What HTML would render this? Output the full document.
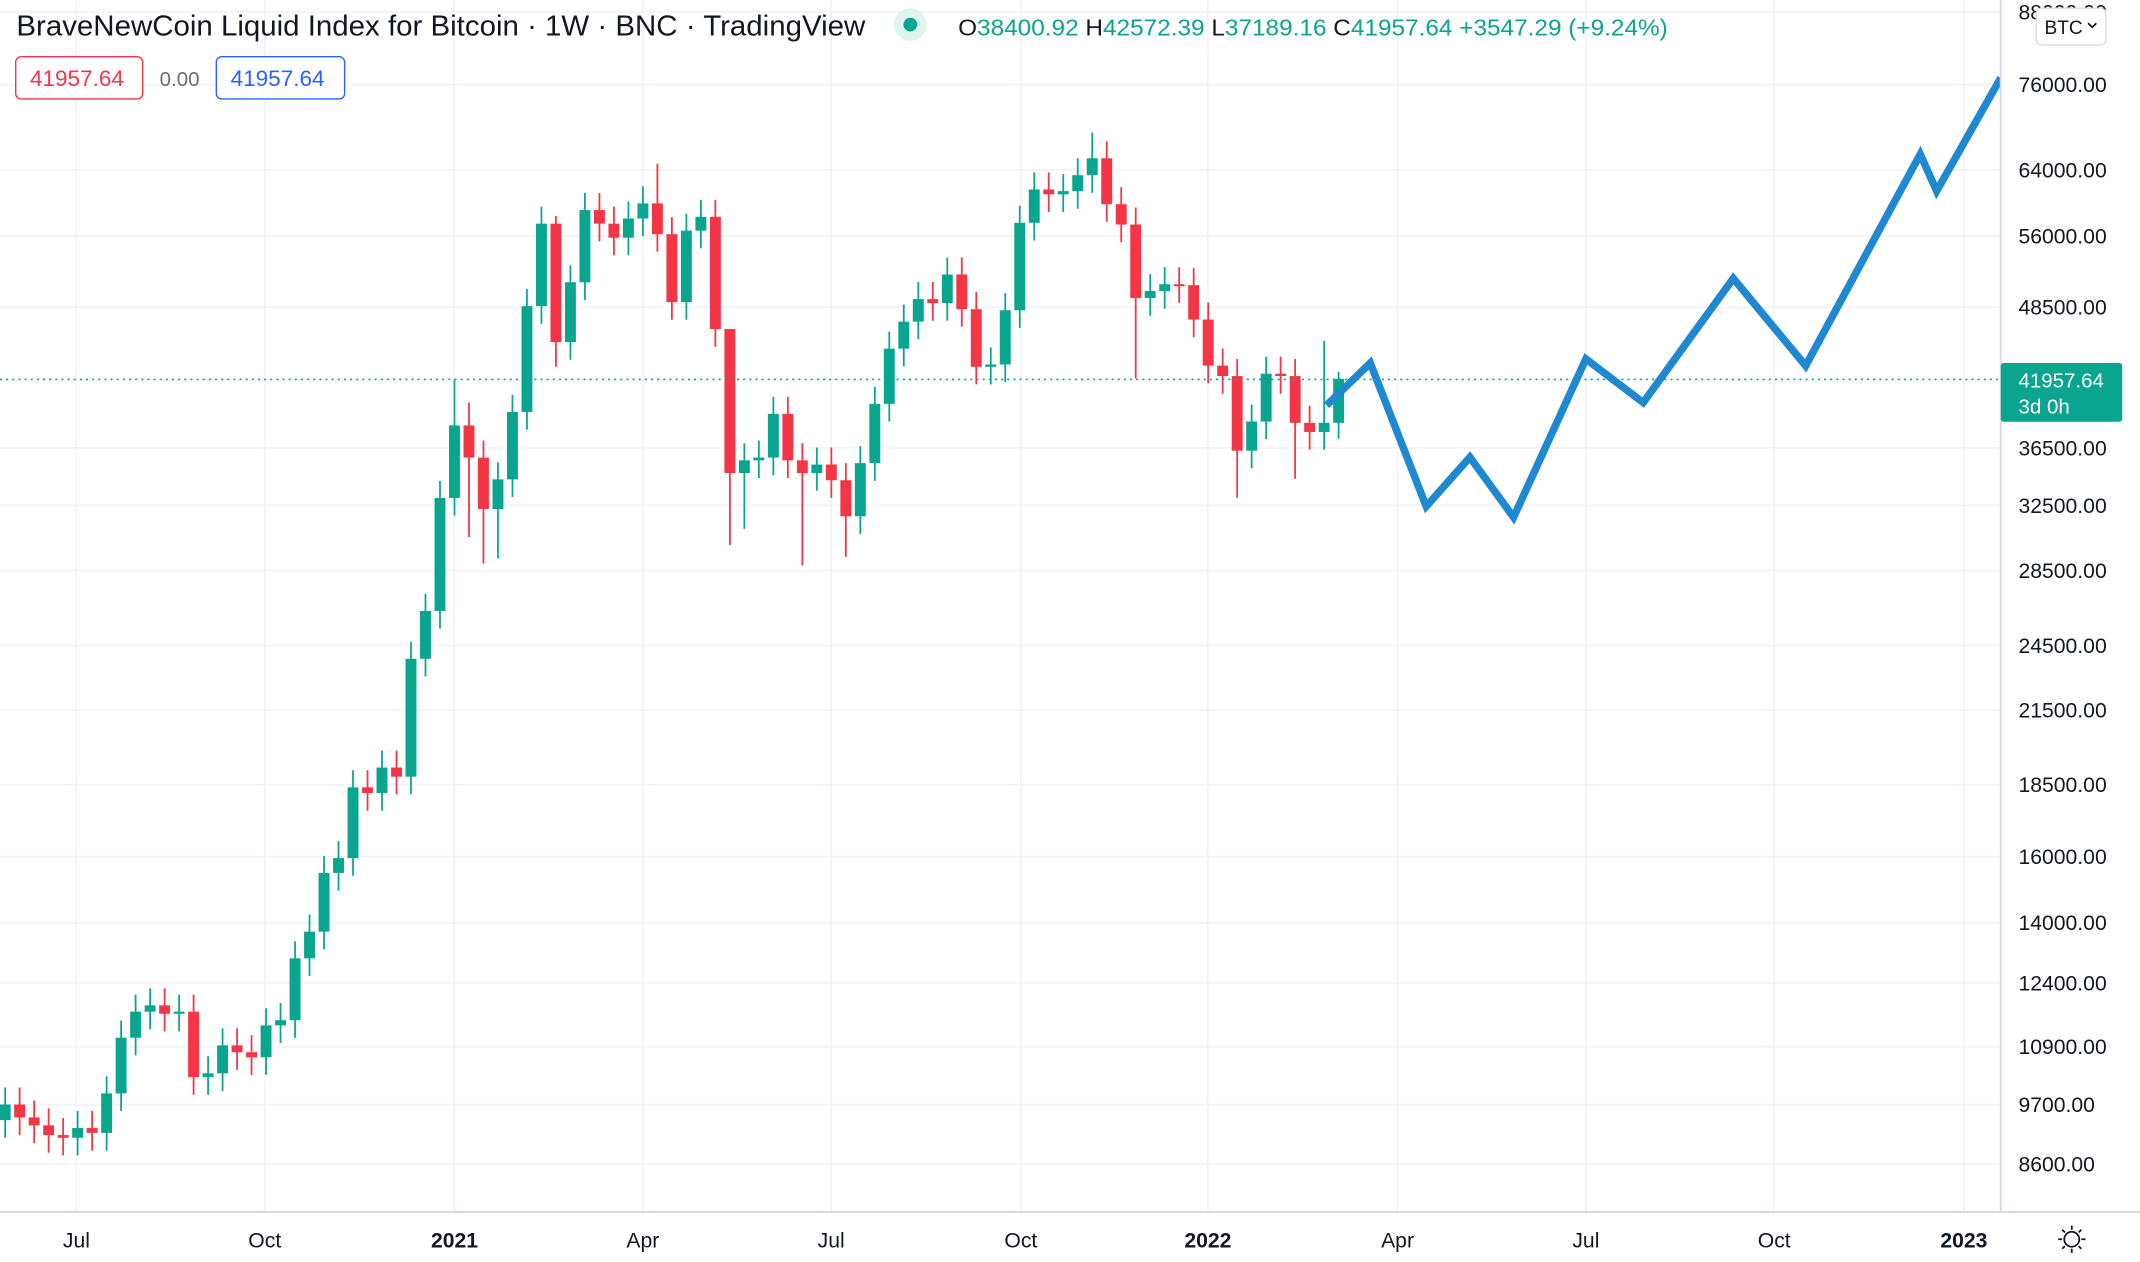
<!DOCTYPE html>
<html><head><meta charset="utf-8"><style>
html,body{margin:0;padding:0;background:#fff;overflow:hidden}
svg{display:block}
text{font-family:"Liberation Sans","DejaVu Sans",sans-serif}
</style></head><body>
<svg id="s" width="2140" height="1262" viewBox="0 0 1568 924.67" preserveAspectRatio="none" xmlns="http://www.w3.org/2000/svg">
<g id="grid"></g>
<g id="candles"></g>
<line x1="0" y1="278" x2="1466" y2="278" stroke="#12a08f" stroke-width="1.2" stroke-dasharray="1.5,3"/>
<polyline fill="none" stroke="#1e88d0" stroke-width="5.5" stroke-linejoin="miter" points="972,297 1004,266 1045,371 1077,335 1109,379 1162,263 1204,295 1270,204 1323,268 1407,113 1419,140 1466,57"/>
<rect x="1466" y="0" width="102" height="925" fill="#fff"/>
<rect x="0" y="888" width="1568" height="37" fill="#fff"/>
<line x1="1466" y1="0" x2="1466" y2="888" stroke="#d8dbe3" stroke-width="1.5"/>
<line x1="0" y1="888" x2="1568" y2="888" stroke="#d8dbe3" stroke-width="1.5"/>
<g id="labels" font-size="15.5" fill="#131722"></g>
<rect x="1466" y="266" width="89" height="43" fill="#0aa58f" rx="2"/>
<text x="1479" y="284" font-size="15" fill="#fff">41957.64</text>
<text x="1479" y="303" font-size="15" fill="#fff">3d 0h</text>
<rect x="1492" y="6" width="51" height="27" rx="4" fill="#fff" stroke="#d8dbe3"/>
<text x="1498" y="25" font-size="14" fill="#131722">BTC</text>
<path d="M1530 17 l3 3 l3 -3" stroke="#131722" fill="none" stroke-width="1.3"/>
<g stroke="#131722" stroke-width="1.3" fill="none"><circle cx="1518" cy="908" r="5.5"/><path d="M1518 898v3M1518 915v3M1508 908h3M1525 908h3M1511 901l2 2M1523 913l2 2M1525 901l-2 2M1511 915l2-2"/></g>
<text x="12" y="26" font-size="21" fill="#131722" textLength="622" lengthAdjust="spacingAndGlyphs">BraveNewCoin Liquid Index for Bitcoin · 1W · BNC · TradingView</text>
<circle cx="667" cy="18" r="12" fill="#dff3ef"/><circle cx="667" cy="18" r="5" fill="#0aa58f"/>
<text x="702" y="26" font-size="17" fill="#0aa58f" textLength="520" lengthAdjust="spacingAndGlyphs"><tspan fill="#131722">O</tspan>38400.92 <tspan fill="#131722">H</tspan>42572.39 <tspan fill="#131722">L</tspan>37189.16 <tspan fill="#131722">C</tspan>41957.64 +3547.29 (+9.24%)</text>
<rect x="11.5" y="41.5" width="93" height="31" rx="4" fill="#fff" stroke="#f23645"/>
<text x="22" y="63" font-size="16.5" fill="#f23645">41957.64</text>
<text x="117" y="63" font-size="15" fill="#6a6d78">0.00</text>
<rect x="158.5" y="41.5" width="94" height="31" rx="4" fill="#fff" stroke="#2962ff"/>
<text x="169" y="63" font-size="16.5" fill="#2962ff">41957.64</text>
</svg>
<script>
var NS="http://www.w3.org/2000/svg";
function el(p,t,a,txt){var e=document.createElementNS(NS,t);for(var k in a)e.setAttribute(k,a[k]);if(txt)e.textContent=txt;p.appendChild(e);return e;}
function Y(p){return 62+(Math.log(76000)-Math.log(p))*363;}
var grid=document.getElementById('grid'),lab=document.getElementById('labels');
var prices=[88000,76000,64000,56000,48500,36500,32500,28500,24500,21500,18500,16000,14000,12400,10900,9700,8600];
prices.forEach(function(p){var y=Y(p);el(grid,'line',{x1:0,x2:1466,y1:y,y2:y,stroke:'#f0f3fa','stroke-width':1.2});
 el(lab,'text',{x:1479,y:y+5.5},p.toFixed(2));});
var xs=[[56,'Jul'],[194,'Oct'],[333,'2021'],[471,'Apr'],[609,'Jul'],[748,'Oct'],[885,'2022'],[1024,'Apr'],[1162,'Jul'],[1300,'Oct'],[1439,'2023']];
xs.forEach(function(a){el(grid,'line',{x1:a[0],x2:a[0],y1:0,y2:888,stroke:'#f0f3fa','stroke-width':1.2});
 var t=el(lab,'text',{x:a[0],y:914,'text-anchor':'middle'},a[1]);if(/^20/.test(a[1]))t.setAttribute('font-weight','bold');});
var c=[9700,9450,9300,9120,9070,9250,9160,9920,11100,11700,11850,11650,11700,10250,10330,10930,10780,10670,11380,11500,13030,13750,15480,15950,18400,18190,19150,18800,23850,26270,33000,
38200,35800,32270,34260,39250,48600,57400,45200,51000,59000,57400,55800,58000,59800,56200,49000,56600,58200,46400,34700,35600,35800,39100,35600,34700,35300,34200,31800,35400,39900,44600,47100,49300,48900,51800,48300,43000,43200,48200,57500,61500,60900,61300,63300,65500,59700,57300,49400,50100,50800,50700,47300,43100,42200,36300,38500,42400,42200,38400,37700,38400,41957.64];
var H={14:64800,19:45800,44:69000,60:45300,61:42572,7:58300,0:41900,1:40000};
var L={19:30000,20:31000,24:28800,27:29300,47:42000,54:33000,58:34300,61:37189,2:28900,7:43000,1:30500,3:29200};
var g=document.getElementById('candles');
for(var i=0;i<c.length;i++){
 var idx=i-31, x=333+idx*10.62, cl=c[i], op=i?c[i-1]:9400;
 var hi=H[idx]!==undefined&&idx>=0?H[idx]:Math.max(op,cl)*1.035;
 var lo=L[idx]!==undefined&&idx>=0?L[idx]:Math.min(op,cl)*0.965;
 var col=cl>=op?'#0aa58f':'#f23645';
 el(g,'line',{x1:x,x2:x,y1:Y(hi),y2:Y(lo),stroke:col,'stroke-width':1.3});
 var yt=Y(Math.max(op,cl)),yb=Y(Math.min(op,cl));
 el(g,'rect',{x:x-4,y:yt,width:8,height:Math.max(1.5,yb-yt),fill:col});
}
</script>
</body></html>
